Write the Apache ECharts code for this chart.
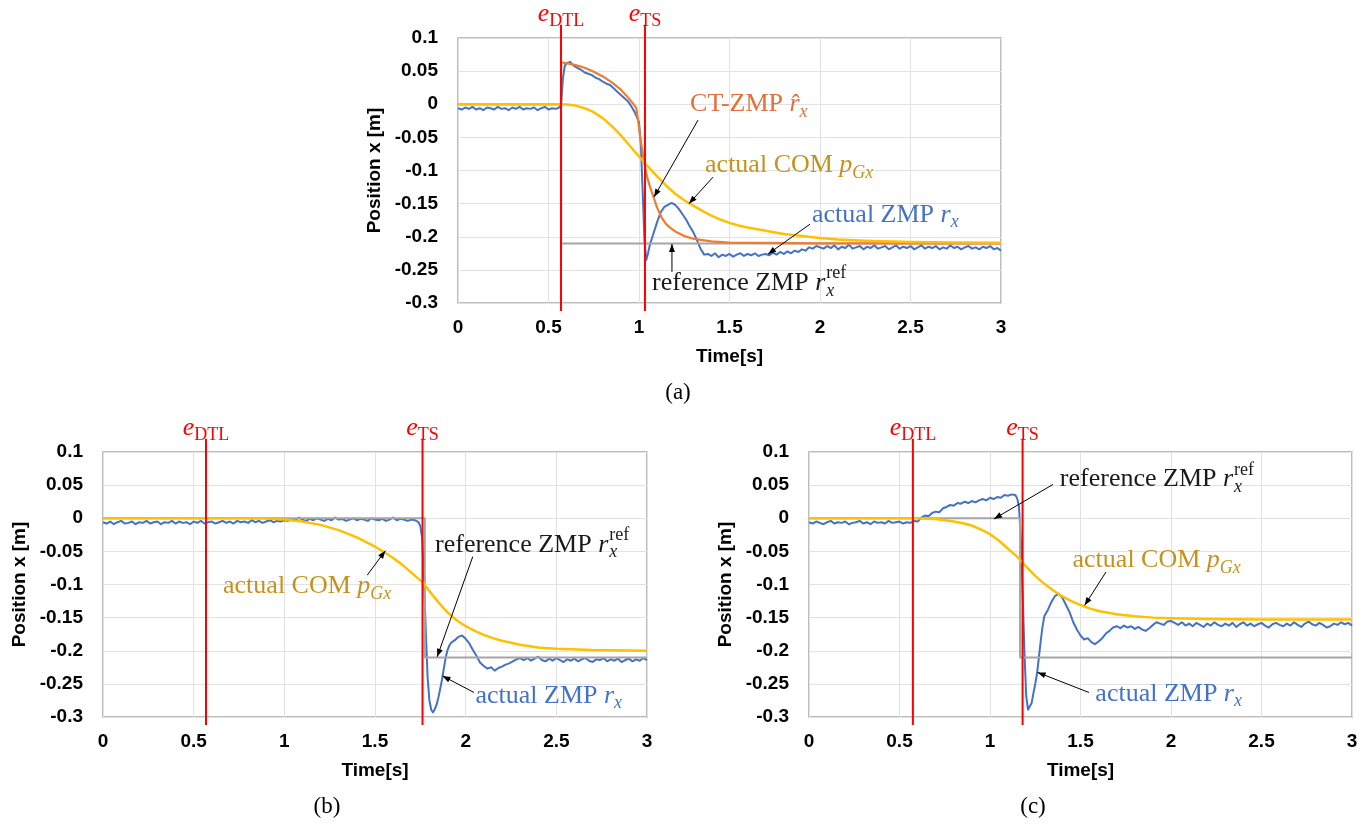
<!DOCTYPE html>
<html><head><meta charset="utf-8">
<script src="https://cdn.jsdelivr.net/npm/echarts@6/dist/echarts.min.js"></script>
<style>html,body{margin:0;padding:0;background:#fff}#c{width:1370px;height:825px}</style>
</head><body><div id="c"></div>
<script>
// ================= DATA =================
// plain value arrays are sampled every 0.02 s from the stated start time
// ---- panel (a)
const zmpA_head = [-0.006,-0.008,-0.005,-0.007,-0.004,-0.008,-0.006,-0.009,-0.005,-0.006,
 -0.008,-0.004,-0.007,-0.006,-0.009,-0.005,-0.007,-0.004,-0.008,-0.006,
 -0.007,-0.005,-0.009,-0.006,-0.004,-0.008,-0.006,-0.007,-0.005]; // t = 0 ... 0.56
const zmpA_mid = [[0.57,0.0],[0.58,0.04],[0.59,0.058],[0.60,0.062],[0.62,0.064],[0.64,0.058],[0.66,0.055],[0.68,0.052],
 [0.70,0.048],[0.72,0.046],[0.74,0.044],[0.76,0.040],[0.78,0.038],[0.80,0.034],[0.82,0.031],[0.84,0.029],[0.86,0.024],
 [0.88,0.019],[0.90,0.014],[0.92,0.009],[0.94,0.004],[0.96,-0.004],[0.98,-0.014],[1.00,-0.027],[1.01,-0.06],[1.02,-0.13],
 [1.03,-0.205],[1.04,-0.235],[1.05,-0.225],[1.06,-0.212],[1.08,-0.195],[1.10,-0.178],[1.12,-0.163],[1.14,-0.155],
 [1.16,-0.152],[1.18,-0.149],[1.20,-0.152],[1.22,-0.158],[1.24,-0.166],[1.26,-0.174],[1.28,-0.184],[1.30,-0.193],
 [1.32,-0.205],[1.34,-0.218],[1.36,-0.227],[1.38,-0.226],[1.40,-0.229],[1.42,-0.225],[1.44,-0.231],[1.46,-0.227],
 [1.48,-0.229],[1.50,-0.226],[1.52,-0.230],[1.54,-0.227],[1.56,-0.225],[1.58,-0.229],[1.60,-0.226],[1.62,-0.228],
 [1.64,-0.225],[1.66,-0.229],[1.68,-0.227],[1.70,-0.226],[1.72,-0.228],[1.74,-0.224],[1.76,-0.227],[1.78,-0.223],
 [1.80,-0.226],[1.82,-0.222],[1.84,-0.225],[1.86,-0.221],[1.88,-0.223],[1.90,-0.219],[1.92,-0.221],[1.94,-0.216],
 [1.96,-0.218],[1.98,-0.214],[2.00,-0.216]];
const zmpA_tail = [-0.218,-0.214,-0.217,-0.213,-0.219,-0.215,-0.217,-0.212,-0.218,-0.216,
 -0.214,-0.219,-0.215,-0.217,-0.213,-0.218,-0.216,-0.214,-0.219,-0.216,
 -0.213,-0.218,-0.215,-0.217,-0.214,-0.219,-0.216,-0.213,-0.218,-0.215,
 -0.217,-0.214,-0.219,-0.216,-0.218,-0.213,-0.217,-0.215,-0.219,-0.216,
 -0.214,-0.218,-0.216,-0.219,-0.215,-0.217,-0.214,-0.219,-0.217,-0.221]; // t = 2.02 ... 3.00
const ctA = [[0,0],[0.569,0],[0.57,0.063],[0.6,0.062],[0.65,0.059],[0.7,0.055],[0.75,0.049],[0.8,0.042],[0.85,0.033],
 [0.9,0.022],[0.94,0.010],[0.97,0.0],[0.985,-0.006],[0.995,-0.025],[1.006,-0.049],[1.02,-0.073],[1.033,-0.094],
 [1.045,-0.11],[1.06,-0.124],[1.08,-0.140],[1.1,-0.156],[1.125,-0.171],[1.15,-0.181],[1.175,-0.187],[1.2,-0.192],
 [1.25,-0.199],[1.3,-0.203],[1.35,-0.205],[1.4,-0.207],[1.5,-0.209],[2,-0.21],[3,-0.21]];
const comA = [[0,0],[0.55,0],[0.6,-0.0005],[0.65,-0.002],[0.7,-0.006],[0.75,-0.012],[0.8,-0.021],[0.85,-0.033],
 [0.9,-0.047],[0.95,-0.063],[1.0,-0.079],[1.05,-0.094],[1.1,-0.109],[1.15,-0.123],[1.2,-0.135],[1.25,-0.145],
 [1.3,-0.153],[1.35,-0.161],[1.4,-0.168],[1.45,-0.174],[1.5,-0.179],[1.55,-0.183],[1.6,-0.186],[1.7,-0.191],
 [1.8,-0.196],[1.9,-0.199],[2.0,-0.202],[2.1,-0.204],[2.25,-0.206],[2.5,-0.208],[2.75,-0.2085],[3.0,-0.209]];
const refA = [[0,0],[0.57,0],[0.57,-0.21],[3,-0.21]];
const eventsA = [0.569, 1.033]; // e_DTL, e_TS

// ---- panel (b)
const zmpB_head = [-0.006,-0.008,-0.005,-0.009,-0.006,-0.004,-0.008,-0.007,-0.005,-0.009,
 -0.006,-0.007,-0.004,-0.008,-0.006,-0.005,-0.009,-0.006,-0.007,-0.004,
 -0.008,-0.005,-0.007,-0.006,-0.009,-0.005,-0.007,-0.004,-0.008,-0.006,
 -0.005,-0.008,-0.006,-0.004,-0.007,-0.005,-0.008,-0.004,-0.006,-0.005,
 -0.007,-0.003,-0.006,-0.004,-0.007,-0.005,-0.003,-0.006,-0.004,-0.005,
 -0.003]; // t = 0 ... 1.00
const zmpB_flat = [-0.004,-0.001,-0.003,0.001,-0.002,-0.004,-0.001,-0.003,0.0,-0.002,
 -0.004,-0.001,-0.003,0.001,-0.002,-0.001,-0.004,-0.002,0.0,-0.003,
 -0.001,-0.002,-0.004,0.0,-0.002,-0.003,-0.001,-0.004,-0.002,0.001,
 -0.003,-0.001,-0.002,-0.004,-0.002,-0.003,-0.006]; // t = 1.02 ... 1.74
const zmpB_mid = [[1.75,-0.012],[1.76,-0.03],[1.77,-0.09],[1.78,-0.17],[1.79,-0.24],[1.80,-0.275],[1.81,-0.289],
 [1.82,-0.293],[1.83,-0.288],[1.84,-0.281],[1.85,-0.270],[1.86,-0.257],[1.87,-0.243],[1.88,-0.226],[1.89,-0.210],
 [1.90,-0.199],[1.91,-0.192],[1.92,-0.188],[1.94,-0.184],[1.96,-0.179],[1.98,-0.177],[2.00,-0.182],[2.02,-0.189],
 [2.04,-0.199],[2.06,-0.208],[2.08,-0.218],[2.10,-0.223],[2.12,-0.227],[2.14,-0.225],[2.16,-0.230],[2.18,-0.226],
 [2.20,-0.224],[2.22,-0.221],[2.24,-0.219],[2.26,-0.216],[2.28,-0.213],[2.30,-0.211]];
const zmpB_tail = [-0.214,-0.211,-0.215,-0.212,-0.209,-0.214,-0.216,-0.212,-0.215,-0.211,
 -0.214,-0.217,-0.213,-0.215,-0.212,-0.216,-0.213,-0.211,-0.215,-0.217,
 -0.213,-0.214,-0.211,-0.216,-0.213,-0.215,-0.212,-0.217,-0.214,-0.212,
 -0.216,-0.213,-0.215,-0.211,-0.214]; // t = 2.32 ... 3.00
const comB = [[0,0],[0.8,0],[0.9,-0.0005],[1.0,-0.002],[1.1,-0.005],[1.2,-0.01],[1.3,-0.018],[1.4,-0.029],
 [1.5,-0.043],[1.55,-0.051],[1.6,-0.06],[1.65,-0.07],[1.7,-0.082],[1.76,-0.096],[1.8,-0.11],[1.85,-0.127],
 [1.9,-0.142],[1.95,-0.154],[2.0,-0.163],[2.05,-0.17],[2.1,-0.176],[2.15,-0.181],[2.2,-0.185],[2.3,-0.191],
 [2.4,-0.195],[2.5,-0.197],[2.7,-0.199],[3.0,-0.2]];
const refB = [[0,0],[1.775,0],[1.775,-0.21],[3,-0.21]];
const eventsB = [0.568, 1.762];

// ---- panel (c)
const zmpC_head = [-0.006,-0.008,-0.005,-0.007,-0.009,-0.006,-0.004,-0.008,-0.006,-0.007,
 -0.005,-0.009,-0.007,-0.006,-0.004,-0.008,-0.006,-0.009,-0.005,-0.007,
 -0.006,-0.008,-0.004,-0.007,-0.006,-0.005,-0.008,-0.006,-0.007,-0.004,
 -0.005]; // t = 0 ... 0.60
const zmpC_mid = [[0.62,0.001],[0.64,0.004],[0.66,0.003],[0.68,0.008],[0.70,0.010],[0.72,0.009],[0.74,0.015],
 [0.76,0.017],[0.78,0.020],[0.80,0.019],[0.82,0.023],[0.84,0.022],[0.86,0.025],[0.88,0.023],[0.90,0.026],
 [0.92,0.024],[0.94,0.027],[0.96,0.029],[0.98,0.027],[1.00,0.031],[1.02,0.029],[1.04,0.032],[1.06,0.031],
 [1.08,0.035],[1.10,0.034],[1.12,0.036],[1.13,0.038],[1.14,0.035],[1.15,0.030],[1.16,0.018],[1.17,-0.03],
 [1.18,-0.11],[1.19,-0.2],[1.20,-0.268],[1.21,-0.289],[1.22,-0.29],[1.23,-0.279],[1.24,-0.264],[1.25,-0.25],
 [1.26,-0.234],[1.27,-0.21],[1.28,-0.186],[1.29,-0.164],[1.30,-0.148],[1.32,-0.138],[1.34,-0.126],[1.36,-0.117],
 [1.38,-0.114],[1.40,-0.12],[1.42,-0.131],[1.44,-0.142],[1.46,-0.157],[1.48,-0.168],[1.50,-0.177],[1.52,-0.183],
 [1.54,-0.181],[1.56,-0.187],[1.58,-0.19],[1.60,-0.186],[1.62,-0.181],[1.64,-0.174],[1.66,-0.17],[1.68,-0.165],
 [1.70,-0.163],[1.72,-0.166],[1.74,-0.162],[1.76,-0.165],[1.78,-0.163],[1.80,-0.167],[1.82,-0.164],[1.84,-0.168],
 [1.86,-0.170],[1.88,-0.166],[1.90,-0.161],[1.92,-0.157],[1.94,-0.159],[1.96,-0.161],[1.98,-0.156],[2.00,-0.155]];
const zmpC_tail = [-0.158,-0.161,-0.157,-0.162,-0.159,-0.163,-0.158,-0.161,-0.164,-0.159,
 -0.162,-0.157,-0.161,-0.163,-0.159,-0.162,-0.158,-0.164,-0.16,-0.157,
 -0.162,-0.159,-0.163,-0.16,-0.158,-0.162,-0.165,-0.16,-0.158,-0.161,
 -0.163,-0.159,-0.162,-0.157,-0.161,-0.164,-0.159,-0.156,-0.16,-0.162,
 -0.158,-0.161,-0.165,-0.163,-0.159,-0.161,-0.157,-0.16,-0.158,-0.162]; // t = 2.02 ... 3.00
const comC = [[0,0],[0.6,0],[0.7,-0.001],[0.8,-0.005],[0.85,-0.0075],[0.9,-0.011],[0.95,-0.017],[1.0,-0.024],
 [1.05,-0.034],[1.1,-0.046],[1.15,-0.058],[1.2,-0.073],[1.25,-0.087],[1.3,-0.099],[1.35,-0.109],[1.4,-0.118],
 [1.45,-0.125],[1.5,-0.131],[1.55,-0.136],[1.6,-0.14],[1.7,-0.145],[1.8,-0.148],[1.9,-0.15],[2.0,-0.151],
 [2.2,-0.152],[2.5,-0.153],[3,-0.153]];
const refC = [[0,0],[1.166,0],[1.166,-0.21],[3,-0.21]];
const eventsC = [0.574, 1.18];

// axis ranges / ticks
const xRange = [0, 3, 0.5];
const yRange = [-0.3, 0.1, 0.05];
const eventLabels = ['DTL', 'TS'];
const captions = ['(a)', '(b)', '(c)'];

// ================= BUILD =================
const STEP = 0.02;
function seg(t0, vals){ return vals.map((v,i)=>[+(t0 + i*STEP).toFixed(3), v]); }
const zmpA = seg(0, zmpA_head).concat(zmpA_mid, seg(2.02, zmpA_tail));
const zmpB = seg(0, zmpB_head).concat(seg(1.02, zmpB_flat), zmpB_mid, seg(2.32, zmpB_tail));
const zmpC = seg(0, zmpC_head).concat(zmpC_mid, seg(2.02, zmpC_tail));

const SANS = 'Liberation Sans';
const SERIF = 'Liberation Serif';
const COL = {blue:'#4472C4', orange:'#ED7D31', yellow:'#FFC000', gray:'#A5A5A5', red:'#FF0000',
  tOrange:'#E2703A', tGold:'#C4931C', tBlue:'#4472C4', tBlack:'#1a1a1a'};

const panels = [
  {grid:{left:458, top:38, width:543, height:265}, zmp:zmpA, ct:ctA, com:comA, ref:refA, ev:eventsA, cap:[678,393]},
  {grid:{left:103, top:452, width:544, height:265}, zmp:zmpB, ct:null, com:comB, ref:refB, ev:eventsB, cap:[327,807]},
  {grid:{left:809, top:452, width:543, height:265}, zmp:zmpC, ct:null, com:comC, ref:refC, ev:eventsC, cap:[1033,807]},
];

// annotation placement (data coordinates of the panel)
const notes = [
  {p:0, kind:'ct',  at:[1.282, 0.000],  arrow:[[1.326,-0.024],[1.083,-0.140]]},
  {p:0, kind:'com', at:[1.365,-0.092],  arrow:[[1.409,-0.110],[1.276,-0.150]]},
  {p:0, kind:'zmp', at:[1.956,-0.167],  arrow:[[1.945,-0.181],[1.713,-0.226]]},
  {p:0, kind:'ref', at:[1.072,-0.270],  arrow:[[1.182,-0.253],[1.182,-0.211]]},
  {p:1, kind:'com', at:[0.662,-0.103],  arrow:[[1.457,-0.086],[1.557,-0.049]]},
  {p:1, kind:'ref', at:[1.831,-0.040],  arrow:[[2.039,-0.058],[1.843,-0.209]]},
  {p:1, kind:'zmp', at:[2.054,-0.268],  arrow:[[2.046,-0.263],[1.872,-0.238]]},
  {p:2, kind:'ref', at:[1.386, 0.059],  arrow:[[1.348, 0.051],[1.022,-0.001]]},
  {p:2, kind:'com', at:[1.456,-0.063],  arrow:[[1.641,-0.081],[1.523,-0.1315]]},
  {p:2, kind:'zmp', at:[1.582,-0.265],  arrow:[[1.547,-0.263],[1.263,-0.2327]]},
];

const fmt = v => String(+(+v).toFixed(2));
const txtStyle = {fontFamily:SANS, fontWeight:'bold', fontSize:19, color:'#000'};

const option = {animation:false, backgroundColor:'#fff', grid:[], xAxis:[], yAxis:[], series:[]};
panels.forEach((P,i)=>{
  option.grid.push(Object.assign({show:true, borderColor:'#a6a6a6', borderWidth:1.5, containLabel:false}, P.grid));
  option.xAxis.push({gridIndex:i, type:'value', min:xRange[0], max:xRange[1], interval:xRange[2],
    name:'Time[s]', nameLocation:'middle', nameGap:44, nameTextStyle:txtStyle,
    axisLine:{show:false}, axisTick:{show:false},
    splitLine:{show:true, lineStyle:{color:'#e2e2e2', width:1}},
    axisLabel:Object.assign({margin:15, formatter:fmt}, txtStyle)});
  option.yAxis.push({gridIndex:i, type:'value', min:yRange[0], max:yRange[1], interval:yRange[2],
    name:'Position x [m]', nameLocation:'middle', nameGap:74, nameTextStyle:txtStyle,
    axisLine:{show:false}, axisTick:{show:false},
    splitLine:{show:true, lineStyle:{color:'#e2e2e2', width:1}},
    axisLabel:Object.assign({margin:20, formatter:fmt}, txtStyle)});
  const L = (data, color, width, z, extra) => Object.assign({type:'line', xAxisIndex:i, yAxisIndex:i, data,
    symbol:'none', showSymbol:false, silent:true, z, lineStyle:{color, width, join:'round'}}, extra||{});
  option.series.push(L(P.zmp, COL.blue, 2, 2));
  option.series.push(L(P.ref, COL.gray, 2, 3));
  if (P.ct) option.series.push(L(P.ct, COL.orange, 2.2, 4));
  option.series.push(L(P.com, COL.yellow, 2.5, 5));
  P.ev.forEach(t=>option.series.push(L([[t,0.12],[t,-0.312]], COL.red, 2, 6, {clip:false})));
});

const chart = echarts.init(document.getElementById('c'));
chart.setOption(option);

// ---------- annotations ----------
const cv = document.createElement('canvas').getContext('2d');
function tw(size, italic, s){ cv.font = (italic?'italic ':'') + size + 'px "' + SERIF + '"'; return cv.measureText(s).width; }
const G = [];
function txt(x, y, s, size, italic, color){
  G.push({type:'text', x, y, silent:true, z:100, style:{text:s, fill:color, fontSize:size, fontFamily:SERIF,
    fontStyle:italic?'italic':'normal', align:'left', verticalAlign:'middle'}});
}
function math(x, y, parts, color, M, center){
  const S = Math.round(M*0.7);
  let total = 0;
  const widths = parts.map(p=>{
    if (p.t !== undefined) return tw(M, p.it, p.t);
    return Math.max(p.sub ? tw(S, p.subIt, p.sub) : 0, p.sup ? tw(S, false, p.sup) : 0);
  });
  widths.forEach(w=>total+=w);
  let cx = center ? x - total/2 : x;
  parts.forEach((p,k)=>{
    if (p.t !== undefined) txt(cx, y, p.t, M, p.it, color);
    else {
      if (p.sub) txt(cx, y + M*0.3, p.sub, S, p.subIt, color);
      if (p.sup) txt(cx, y - M*0.36, p.sup, S, false, color);
    }
    cx += widths[k] + (p.gap||0);
  });
}
function arrow(a, b){
  G.push({type:'line', silent:true, z:100, shape:{x1:a[0], y1:a[1], x2:b[0], y2:b[1]}, style:{stroke:'#000', lineWidth:1}});
  const dx=b[0]-a[0], dy=b[1]-a[1], len=Math.hypot(dx,dy), ux=dx/len, uy=dy/len, L=8, W=3;
  G.push({type:'polygon', silent:true, z:101, shape:{points:[[b[0],b[1]],[b[0]-ux*L-uy*W, b[1]-uy*L+ux*W],[b[0]-ux*L+uy*W, b[1]-uy*L-ux*W]]}, style:{fill:'#000'}});
}
const M = 26;
const kinds = {
  ct:  {color:COL.tOrange, parts:[{t:'CT-ZMP '},{t:'r\u0302', it:true},{sub:'x', subIt:true}]},
  com: {color:COL.tGold,   parts:[{t:'actual COM '},{t:'p', it:true},{sub:'Gx', subIt:true}]},
  zmp: {color:COL.tBlue,   parts:[{t:'actual ZMP '},{t:'r', it:true},{sub:'x', subIt:true}]},
  ref: {color:COL.tBlack,  parts:[{t:'reference ZMP '},{t:'r', it:true, gap:1},{sub:'x', subIt:true, sup:'ref'}]},
};
const px = (i, pt) => chart.convertToPixel({gridIndex:i}, pt);
notes.forEach(n=>{
  const p = px(n.p, n.at);
  math(p[0], p[1], kinds[n.kind].parts, kinds[n.kind].color, M, false);
  arrow(px(n.p, n.arrow[0]), px(n.p, n.arrow[1]));
});
panels.forEach((P,i)=>{
  P.ev.forEach((t,k)=>{
    const top = px(i, [t, 0.12]);
    math(top[0], top[1]-11, [{t:'e', it:true},{sub:eventLabels[k]}], COL.red, 26, true);
  });
  G.push({type:'text', x:P.cap[0], y:P.cap[1], silent:true, style:{text:captions[i], fill:'#000', fontSize:23,
    fontFamily:SERIF, align:'center', verticalAlign:'middle'}});
});
chart.setOption({graphic:G});
</script>
</body></html>
